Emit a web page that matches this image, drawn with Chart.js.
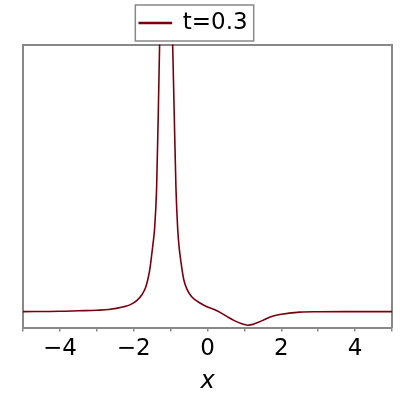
<!DOCTYPE html>
<html>
<head>
<meta charset="utf-8">
<script src="https://cdn.jsdelivr.net/npm/chart.js@4/dist/chart.umd.min.js"></script>
<style>
  html, body { margin: 0; padding: 0; background: #fff; }
  #wrap { width: 400px; height: 400px; }
</style>
</head>
<body>
<div id="wrap"><canvas id="grafico"></canvas></div>
<script>
// curve (y has no scale, baseline = 0)
const xValues = [-5, -4, -3.5, -3, -2.68, -2.27, -2.09, -1.91, -1.773, -1.68, -1.617, -1.563, -1.516, -1.473, -1.435,
  -1.38, -1.336, -1.298, -1.22, -1.12, -1.03, -0.944, -0.9, -0.854, -0.807, -0.772, -0.717, -0.644, -0.554, -0.445,
  -0.363, -0.27, -0.18, 0, 0.183, 0.365, 0.545, 0.728, 0.91, 1.09, 1.23, 1.32, 1.5, 1.68, 1.96, 2.5, 3, 4, 5];
const yValues = [0, 0.01, 0.03, 0.05, 0.075, 0.18, 0.26, 0.42, 0.64, 0.89, 1.2, 1.58, 2.08, 2.58, 3.08,
  4.59, 7.29, 10, 15.5, 20, 15.5, 10, 7.29, 4.59, 3.08, 2.45, 1.83, 1.2, 0.83, 0.58,
  0.47, 0.38, 0.3, 0.17, 0.075, -0.05, -0.2, -0.34, -0.45, -0.51, -0.48, -0.43, -0.33, -0.21, -0.11, -0.02, -0.005, 0, 0];
const serieNome = "t=0.3";
const xTicks = [-4, -2, 0, 2, 4];

const cinza = "#888888";
const corLinha = "#78000E";

const pontos = xValues.map(function (x, i) {
  return { x: x, y: yValues[i] };
});

// legenda com moldura, deslocada um pouco para a esquerda
const molduraLegenda = {
  id: "molduraLegenda",
  afterLayout: function (chart) {
    chart.legend.left -= 14;
    chart.legend.right -= 14;
  },
  afterDraw: function (chart) {
    const hb = chart.legend.legendHitBoxes[0];
    if (!hb) return;
    const ctx = chart.ctx;
    ctx.save();
    ctx.strokeStyle = cinza;
    ctx.lineWidth = 1.5;
    ctx.strokeRect(hb.left - 4, hb.top - 6.5, hb.width + 10, hb.height + 13);
    ctx.restore();
  },
};

const ctx = document.getElementById("grafico").getContext("2d");

const grafico = new Chart(ctx, {
  type: "line",
  data: {
    datasets: [
      {
        label: serieNome,
        data: pontos,
        borderColor: corLinha,
        backgroundColor: corLinha,
        borderWidth: 1.6,
        pointRadius: 0,
        cubicInterpolationMode: "monotone",
        fill: false,
      },
    ],
  },
  options: {
    responsive: true,
    maintainAspectRatio: false,
    animation: false,
    layout: { padding: { left: 23, right: 8, top: 0, bottom: 0 } },
    plugins: {
      tooltip: { enabled: false },
      legend: {
        display: true,
        position: "top",
        labels: {
          color: "#000",
          font: { family: "DejaVu Sans", size: 23 },
          boxWidth: 32,
          boxHeight: 1,
          padding: 11.5,
        },
      },
    },
    scales: {
      x: {
        type: "linear",
        min: -5,
        max: 5,
        border: { display: true, color: cinza, width: 2 },
        grid: { display: true, drawOnChartArea: false, drawTicks: true, tickLength: 4, color: cinza, lineWidth: 1.5 },
        ticks: {
          stepSize: 1,
          autoSkip: false,
          maxRotation: 0,
          color: "#000",
          padding: 4,
          font: { family: "DejaVu Sans", size: 23 },
          callback: function (v) {
            if (xTicks.indexOf(v) < 0) return "";
            return v < 0 ? "\u2212" + Math.abs(v) : String(v);
          },
        },
        title: {
          display: true,
          text: "x",
          color: "#000",
          font: { family: "DejaVu Sans", size: 24, style: "italic" },
          padding: { top: 0, bottom: 4 },
        },
      },
      y: {
        min: -0.6,
        max: 10,
        border: { display: true, color: cinza, width: 2 },
        grid: { display: false, drawTicks: false },
        ticks: { display: false },
      },
      x2: {
        type: "linear",
        position: "top",
        min: -5,
        max: 5,
        border: { display: true, color: cinza, width: 2 },
        grid: { display: false, drawTicks: false },
        ticks: { display: false },
      },
      y2: {
        type: "linear",
        position: "right",
        min: -0.6,
        max: 10,
        border: { display: true, color: cinza, width: 2 },
        grid: { display: false, drawTicks: false },
        ticks: { display: false },
      },
    },
  },
  plugins: [molduraLegenda],
});
</script>
</body>
</html>
